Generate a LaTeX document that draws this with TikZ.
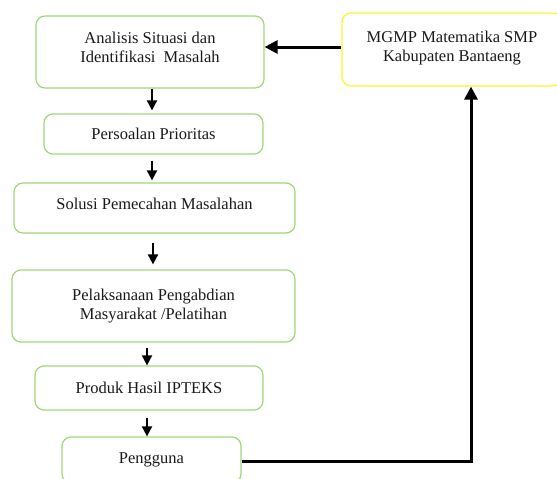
\documentclass[tikz,border=0pt]{standalone}
\usepackage{fontspec}
\setmainfont{Liberation Serif}
\usetikzlibrary{arrows.meta}
\definecolor{boxgreen}{RGB}{160,214,120}
\definecolor{boxyellow}{RGB}{250,246,40}
\newcommand{\lowpad}[1]{\rule[-#1]{0pt}{#1}}
\tikzset{
  box/.style={draw=boxgreen, line width=1.2pt, rounded corners=9pt, align=center,
    inner sep=0pt, font=\fontsize{16.5}{19}\selectfont, text=black!90},
  ybox/.style={box, draw=boxyellow},
  sarr/.style={draw=black, line width=1.8pt, -{Triangle[width=10pt,length=10pt]}},
  barr/.style={draw=black, line width=3pt, -{Triangle[width=13pt,length=13pt]}},
}
\begin{document}
\begin{tikzpicture}[x=1pt,y=-1pt]
\useasboundingbox (0,0) rectangle (557,479);
\node[box, minimum width=228pt, minimum height=72pt] (b1) at (150,52) {Analisis Situasi dan\\Identifikasi\ \ Masalah\lowpad{9pt}};
\node[box, minimum width=219pt, minimum height=40pt] (b2) at (153.5,134) {Persoalan Prioritas};
\node[box, minimum width=281pt, minimum height=50pt] (b3) at (154.5,208) {Solusi Pemecahan Masalahan\lowpad{9pt}};
\node[box, minimum width=283pt, minimum height=72pt] (b4) at (153.5,306) {Pelaksanaan Pengabdian\\Masyarakat /Pelatihan\lowpad{4pt}};
\node[box, minimum width=228pt, minimum height=44pt] (b5) at (149,388) {Produk Hasil IPTEKS};
\node[box, minimum width=179pt, minimum height=46pt] (b6) at (151.5,460) {Pengguna};
\node[ybox, minimum width=220pt, minimum height=73pt] (m) at (452,49.5) {MGMP Matematika SMP\\Kabupaten Bantaeng\lowpad{6pt}};

\draw[sarr, shorten >=3pt] ([xshift=2pt]b1.south) -- ([xshift=-1.5pt]b2.north);
\draw[sarr, shorten <=6pt, shorten >=2pt] ([xshift=-1.5pt]b2.south) -- ([xshift=-2.5pt]b3.north);
\draw[sarr, shorten <=9pt, shorten >=5pt] ([xshift=-1.5pt]b3.south) -- ([xshift=-0.5pt]b4.north);
\draw[sarr, shorten <=5pt] ([xshift=-6.5pt]b4.south) -- ([xshift=-2pt]b5.north);
\draw[sarr, shorten <=7pt] ([xshift=-2pt]b5.south) -- ([xshift=-4.5pt]b6.north);

\draw[barr] ([yshift=-1pt]b6.east) -| ([xshift=19pt]m.south);
\coordinate (mw) at ([yshift=2.5pt]m.west);
\draw[barr] (mw) -- (mw -| b1.east);
\end{tikzpicture}
\end{document}
